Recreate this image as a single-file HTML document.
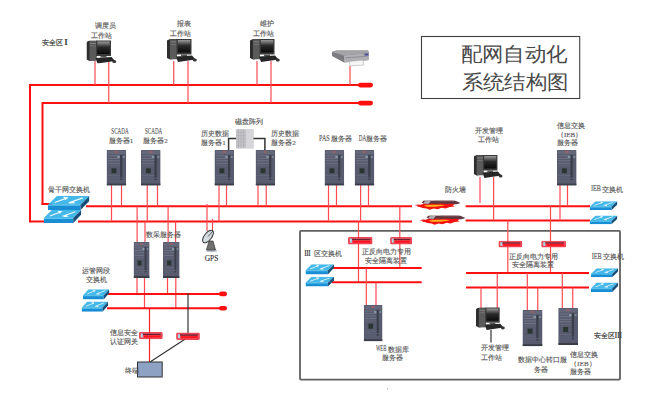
<!DOCTYPE html>
<html><head><meta charset="utf-8"><style>
html,body{margin:0;padding:0;background:#fff;width:650px;height:400px;overflow:hidden}
svg{display:block}
text{font-family:"Liberation Serif",serif}
</style></head><body>
<svg width="650" height="400" viewBox="0 0 650 400">

<defs>
 <symbol id="srv" viewBox="0 0 20 36" preserveAspectRatio="none">
  <rect x="0" y="0" width="20" height="36" rx="0.8" fill="#575b6d"/>
  <rect x="0.8" y="0.8" width="18.4" height="3.5" fill="#64687a"/>
  <rect x="8" y="1.3" width="4" height="1.3" fill="#a86060"/>
  <rect x="1.5" y="5.5" width="12" height="0.8" fill="#767a8c"/>
  <rect x="1.5" y="8" width="12" height="0.8" fill="#767a8c"/>
  <rect x="1.5" y="10.5" width="12" height="0.8" fill="#767a8c"/>
  <rect x="1.5" y="13" width="12" height="0.8" fill="#767a8c"/>
  <rect x="1.5" y="15.5" width="12" height="0.8" fill="#666a7c"/>
  <rect x="13.8" y="5" width="2.2" height="26" fill="#3a3d4a"/>
  <rect x="11" y="6" width="2.5" height="2" fill="#8a9aa4"/>
  <rect x="16.5" y="6" width="2" height="2" fill="#7a8a94"/>
  <rect x="5" y="18.5" width="5" height="5" fill="#2a3430"/>
  <rect x="1.5" y="25.5" width="12" height="0.8" fill="#666a7c"/>
  <rect x="1.5" y="28" width="16" height="0.8" fill="#60647a"/>
  <rect x="1.5" y="30.5" width="16" height="0.8" fill="#5c6074"/>
  <rect x="0" y="34" width="20" height="2" fill="#3a3d48"/>
 </symbol>
 <symbol id="pc" viewBox="0 0 30 23" preserveAspectRatio="none">
  <linearGradient id="scr" x1="0" y1="0" x2="0" y2="1"><stop offset="0" stop-color="#9a9a9a"/><stop offset="0.45" stop-color="#2a2a2a"/><stop offset="1" stop-color="#0a0a0a"/></linearGradient>
  <polygon points="0,1.5 3,0 10,0 10,19.5 3,20.5 0,19" fill="#2e2e2e"/>
  <rect x="3" y="0.3" width="7" height="20" fill="#5a5a5a"/>
  <rect x="3.5" y="2.5" width="6" height="0.8" fill="#888"/>
  <rect x="3.5" y="5" width="6" height="0.8" fill="#777"/>
  <rect x="9.5" y="-0.5" width="15" height="16" fill="#3a3a3a"/>
  <rect x="10.8" y="1" width="12.5" height="12.5" fill="url(#scr)"/>
  <rect x="14" y="15.5" width="6" height="1.5" fill="#555"/>
  <polygon points="9,17.5 25,16.5 28.5,20.5 11,23" fill="#262626"/>
  <ellipse cx="27.8" cy="21" rx="2" ry="1.5" fill="#333"/>
 </symbol>
 <symbol id="sw" viewBox="0 0 28 9" preserveAspectRatio="none">
  <polygon points="0,5.6 6,0 28,0 22,5.6" fill="#44b8e8"/>
  <polygon points="0,5.6 22,5.6 22,9 0,9" fill="#1a8ed4"/>
  <polygon points="0,5.6 22,5.6 22,6.3 0,6.3" fill="#5cc8f0"/>
  <polygon points="22,5.6 28,0 28,3.2 22,9" fill="#184f78"/>
  <path d="M4.5,4.2 L13,1.2 M10.5,0.9 L13,1.2 L11.5,2.4 M14,4.4 L23.5,1.2 M15,4.4 L17.5,4.3 L16.2,3.3" stroke="#f0faff" stroke-width="0.75" fill="none"/>
 </symbol>
 <symbol id="iso" viewBox="0 0 25 7.5" preserveAspectRatio="none">
  <rect x="0.4" y="0.4" width="24.2" height="6.7" rx="1" fill="#f25868" stroke="#e81c2c" stroke-width="0.8"/>
  <rect x="2.5" y="1.8" width="20.5" height="1.4" fill="#6a2030"/>
  <rect x="2" y="1.6" width="2" height="4" fill="#a8dce8"/>
  <rect x="5" y="3.6" width="18" height="2.2" fill="#ff1420"/>
 </symbol>
 <symbol id="fw" viewBox="0 0 46 11" preserveAspectRatio="none">
  <polygon points="7,2.5 9,0.3 40,0.3 46,3 42,4.2 10,4.2" fill="#5e3840"/>
  <polygon points="10,1 16,0.8 14,3.6 8.5,3.6" fill="#b4b4bc"/>
  <polygon points="20,0.6 38,0.6 40,1.6 22,1.6" fill="#7a4a50"/>
  <path d="M0,5.2 L3,4.4 L6,4.8 L9,3.6 L13,4.2 L17,3.4 L22,4 L27,3.5 L32,3.9 L37,3.6 L40,4.5 L38,5.6 L40,6.6 L35,7.2 L31,8.6 L27,8 L23,9.6 L19,8.8 L15,10 L12,8.6 L8,8.2 L5,7.2 L2,6.8 L4,6 Z" fill="#f41010"/>
  <path d="M9,5.6 C13,4.6 22,4.4 30,5 C28,6.5 20,7 12,6.8 Z" fill="#ffb818"/>
 </symbol>
</defs>

<rect x="421.5" y="36.5" width="158.2" height="62" fill="none" stroke="#404040" stroke-width="1.1"/>
<text transform="translate(460.5 60.8) scale(1 0.93)" font-size="21" fill="#484848" letter-spacing="0.7" style="font-family:Liberation Sans">配网自动化</text>
<text transform="translate(461.5 89) scale(1 0.93)" font-size="21" fill="#484848" letter-spacing="0.7" style="font-family:Liberation Sans">系统结构图</text>
<rect x="300" y="230.9" width="320" height="148.7" rx="0.8" fill="none" stroke="#606060" stroke-width="1.8"/>
<line x1="30" y1="85" x2="362" y2="85" stroke="#ff1010" stroke-width="2.0"/>
<line x1="42.5" y1="103" x2="362" y2="103" stroke="#ff1010" stroke-width="2.0"/>
<rect x="358" y="82.8" width="15" height="4.6" rx="2.3" fill="#ff1010"/>
<rect x="358" y="100.8" width="15" height="4.6" rx="2.3" fill="#ff1010"/>
<line x1="30" y1="84" x2="30" y2="221.5" stroke="#ff1010" stroke-width="2"/>
<line x1="29" y1="221.5" x2="46" y2="221.5" stroke="#ff1010" stroke-width="2.0"/>
<line x1="42.5" y1="102" x2="42.5" y2="204.5" stroke="#ff1010" stroke-width="2"/>
<line x1="41.5" y1="204" x2="52" y2="204" stroke="#ff1010" stroke-width="2.0"/>
<line x1="95" y1="61" x2="95" y2="85" stroke="#ff4a50" stroke-width="1.2"/>
<line x1="108.75" y1="61" x2="108.75" y2="103" stroke="#ff4a50" stroke-width="1.2"/>
<use href="#pc" x="86.5" y="40.5" width="30" height="23"/>
<line x1="173.75" y1="61" x2="173.75" y2="85" stroke="#ff4a50" stroke-width="1.2"/>
<line x1="188" y1="61" x2="188" y2="103" stroke="#ff4a50" stroke-width="1.2"/>
<use href="#pc" x="167" y="39" width="30" height="23"/>
<line x1="257" y1="61" x2="257" y2="85" stroke="#ff4a50" stroke-width="1.2"/>
<line x1="271" y1="61" x2="271" y2="103" stroke="#ff4a50" stroke-width="1.2"/>
<use href="#pc" x="250" y="39" width="30" height="23"/>
<text x="94.5" y="27.6" font-size="7" fill="#5a5a5a" stroke="#5a5a5a" stroke-width="0.15" text-anchor="start" >调度员</text>
<text x="91" y="37.6" font-size="7" fill="#5a5a5a" stroke="#5a5a5a" stroke-width="0.15" text-anchor="start" >工作站</text>
<text x="177" y="25.8" font-size="7" fill="#5a5a5a" stroke="#5a5a5a" stroke-width="0.15" text-anchor="start" >报表</text>
<text x="170" y="35.6" font-size="7" fill="#5a5a5a" stroke="#5a5a5a" stroke-width="0.15" text-anchor="start" >工作站</text>
<text x="259.5" y="25.8" font-size="7" fill="#5a5a5a" stroke="#5a5a5a" stroke-width="0.15" text-anchor="start" >维护</text>
<text x="253" y="35.6" font-size="7" fill="#5a5a5a" stroke="#5a5a5a" stroke-width="0.15" text-anchor="start" >工作站</text>
<text x="42" y="44.9" font-size="7" fill="#333" stroke="#333" stroke-width="0.15" text-anchor="start" stroke-width="0.35">安全区</text>
<text x="64.3" y="45.0" font-size="9" fill="#444" stroke="#444" stroke-width="0.15" text-anchor="start" font-weight="bold">I</text>
<line x1="350" y1="66" x2="350" y2="85" stroke="#ff4a50" stroke-width="1.2"/>
<polygon points="332,52 336,50.5 368,50.5 369,53 369,60 344,62.5 332,56" fill="#7c7c80"/>
<polygon points="332,52 336,50.5 368,50.5 369,53 344,55.5" fill="#a4a4a8"/>
<polygon points="344,55.5 369,53 369,60 344,62.5" fill="#b0b0b4"/>
<line x1="345" y1="58" x2="368" y2="56" stroke="#7a7a7e" stroke-width="0.6"/>
<rect x="364.5" y="53.5" width="4" height="2" fill="#4a4a9a"/>
<polygon points="349,61.5 363,60 364,65 350,65.8" fill="#f6f6f6" stroke="#a0a0a0" stroke-width="0.5"/>
<line x1="86" y1="206.3" x2="412" y2="206.3" stroke="#ff1010" stroke-width="2.0"/>
<line x1="78" y1="221.5" x2="412" y2="221.5" stroke="#ff1010" stroke-width="2.0"/>
<line x1="465.6" y1="206.2" x2="590" y2="206.2" stroke="#ff1010" stroke-width="2.0"/>
<line x1="465.6" y1="220.4" x2="590" y2="220.4" stroke="#ff1010" stroke-width="2.0"/>
<use href="#sw" x="48" y="196" width="41.4" height="14"/>
<use href="#sw" x="43.8" y="210" width="37.5" height="13"/>
<text x="48" y="191.8" font-size="7" fill="#5a5a5a" stroke="#5a5a5a" stroke-width="0.15" text-anchor="start" >骨干网交换机</text>
<line x1="111.5" y1="185" x2="111.5" y2="221.5" stroke="#ff4a50" stroke-width="1.2"/>
<line x1="121.5" y1="185" x2="121.5" y2="206.3" stroke="#ff4a50" stroke-width="1.2"/>
<line x1="147.25" y1="185" x2="147.25" y2="221.5" stroke="#ff4a50" stroke-width="1.2"/>
<line x1="157.5" y1="185" x2="157.5" y2="206.3" stroke="#ff4a50" stroke-width="1.2"/>
<line x1="219" y1="185" x2="219" y2="221.5" stroke="#ff4a50" stroke-width="1.2"/>
<line x1="226.5" y1="185" x2="226.5" y2="206.3" stroke="#ff4a50" stroke-width="1.2"/>
<line x1="258" y1="185" x2="258" y2="206.3" stroke="#ff4a50" stroke-width="1.2"/>
<line x1="266.25" y1="185" x2="266.25" y2="206.3" stroke="#ff4a50" stroke-width="1.2"/>
<line x1="328.5" y1="185" x2="328.5" y2="221.5" stroke="#ff4a50" stroke-width="1.2"/>
<line x1="336.5" y1="185" x2="336.5" y2="206.3" stroke="#ff4a50" stroke-width="1.2"/>
<line x1="360.6" y1="185" x2="360.6" y2="221.5" stroke="#ff4a50" stroke-width="1.2"/>
<line x1="368.5" y1="185" x2="368.5" y2="206.3" stroke="#ff4a50" stroke-width="1.2"/>
<line x1="560" y1="185" x2="560" y2="220.4" stroke="#ff4a50" stroke-width="1.2"/>
<line x1="567.5" y1="185" x2="567.5" y2="206.2" stroke="#ff4a50" stroke-width="1.2"/>
<use href="#srv" x="106.6" y="150" width="19.6" height="35.6"/>
<use href="#srv" x="141" y="150" width="19.6" height="35.6"/>
<use href="#srv" x="214.5" y="150" width="19.6" height="35.6"/>
<use href="#srv" x="255.6" y="150" width="19.6" height="35.6"/>
<use href="#srv" x="324.6" y="150" width="19.6" height="35.6"/>
<use href="#srv" x="354.7" y="150" width="19.6" height="35.6"/>
<use href="#srv" x="557" y="150" width="19.6" height="35.6"/>
<text x="111.3" y="134.1" font-size="7.5" fill="#5a5a5a" stroke="#5a5a5a" stroke-width="0.15" text-anchor="start" textLength="17.3" lengthAdjust="spacingAndGlyphs">SCADA</text>
<text x="108.8" y="142.7" font-size="7" fill="#5a5a5a" stroke="#5a5a5a" stroke-width="0.15" text-anchor="start" >服务器1</text>
<text x="145" y="134.1" font-size="7.5" fill="#5a5a5a" stroke="#5a5a5a" stroke-width="0.15" text-anchor="start" textLength="17.3" lengthAdjust="spacingAndGlyphs">SCADA</text>
<text x="143.2" y="142.7" font-size="7" fill="#5a5a5a" stroke="#5a5a5a" stroke-width="0.15" text-anchor="start" >服务器2</text>
<text x="234.5" y="123.9" font-size="7" fill="#5a5a5a" stroke="#5a5a5a" stroke-width="0.15" text-anchor="start" >磁盘阵列</text>
<text x="201.3" y="135.8" font-size="7" fill="#5a5a5a" stroke="#5a5a5a" stroke-width="0.15" text-anchor="start" >历史数据</text>
<text x="201.3" y="144.6" font-size="7" fill="#5a5a5a" stroke="#5a5a5a" stroke-width="0.15" text-anchor="start" >服务器1</text>
<text x="271.3" y="135.8" font-size="7" fill="#5a5a5a" stroke="#5a5a5a" stroke-width="0.15" text-anchor="start" >历史数据</text>
<text x="271.3" y="144.6" font-size="7" fill="#5a5a5a" stroke="#5a5a5a" stroke-width="0.15" text-anchor="start" >服务器2</text>
<text x="319" y="141.1" font-size="7.5" fill="#5a5a5a" stroke="#5a5a5a" stroke-width="0.15" textLength="10.8" lengthAdjust="spacingAndGlyphs">PAS</text>
<text x="330.6" y="140.5" font-size="7" fill="#5a5a5a" stroke="#5a5a5a" stroke-width="0.15" text-anchor="start" >服务器</text>
<text x="358.8" y="141.1" font-size="7.5" fill="#5a5a5a" stroke="#5a5a5a" stroke-width="0.15" textLength="7.5" lengthAdjust="spacingAndGlyphs">DA</text>
<text x="366.3" y="140.5" font-size="7" fill="#5a5a5a" stroke="#5a5a5a" stroke-width="0.15" text-anchor="start" >服务器</text>
<text x="557" y="128.3" font-size="7" fill="#5a5a5a" stroke="#5a5a5a" stroke-width="0.15" text-anchor="start" >信息交换</text>
<text x="557" y="136.6" font-size="7" fill="#5a5a5a" stroke="#5a5a5a" stroke-width="0.15" text-anchor="start" >（IEB）</text>
<text x="556.7" y="145.3" font-size="7" fill="#5a5a5a" stroke="#5a5a5a" stroke-width="0.15" text-anchor="start" >服务器</text>
<rect x="236" y="129.2" width="17.5" height="19.2" fill="#c4c4c8"/>
<rect x="246" y="129.2" width="7.5" height="19.2" fill="#d6d6da"/>
<line x1="236" y1="132.39999999999998" x2="246" y2="132.39999999999998" stroke="#a8a8ae" stroke-width="0.5"/>
<line x1="236" y1="135.6" x2="246" y2="135.6" stroke="#a8a8ae" stroke-width="0.5"/>
<line x1="236" y1="138.79999999999998" x2="246" y2="138.79999999999998" stroke="#a8a8ae" stroke-width="0.5"/>
<line x1="236" y1="142.0" x2="246" y2="142.0" stroke="#a8a8ae" stroke-width="0.5"/>
<line x1="236" y1="145.2" x2="246" y2="145.2" stroke="#a8a8ae" stroke-width="0.5"/>
<line x1="238.5" y1="129.2" x2="238.5" y2="148.4" stroke="#a8a8ae" stroke-width="0.5"/>
<line x1="241.0" y1="129.2" x2="241.0" y2="148.4" stroke="#a8a8ae" stroke-width="0.5"/>
<line x1="243.5" y1="129.2" x2="243.5" y2="148.4" stroke="#a8a8ae" stroke-width="0.5"/>
<path d="M228.6,150 V138.4 H236 M253.5,138.4 H264.9 V150" fill="none" stroke="#333" stroke-width="1.5"/>
<line x1="480" y1="177" x2="480" y2="203" stroke="#ff4a50" stroke-width="1.2"/>
<line x1="493.6" y1="177" x2="493.6" y2="220.4" stroke="#ff4a50" stroke-width="1.2"/>
<use href="#pc" x="473.75" y="155" width="29" height="23"/>
<text x="475" y="133.3" font-size="7" fill="#5a5a5a" stroke="#5a5a5a" stroke-width="0.15" text-anchor="start" >开发管理</text>
<text x="477.5" y="142.3" font-size="7" fill="#5a5a5a" stroke="#5a5a5a" stroke-width="0.15" text-anchor="start" >工作站</text>
<use href="#fw" x="414.7" y="200.2" width="46" height="10.5"/>
<use href="#fw" x="419.6" y="215.2" width="46" height="10.5"/>
<text x="445" y="192.0" font-size="7" fill="#5a5a5a" stroke="#5a5a5a" stroke-width="0.15" text-anchor="start" >防火墙</text>
<use href="#sw" x="589.8" y="201.3" width="27.6" height="8.8"/>
<use href="#sw" x="589.8" y="215.5" width="27.6" height="8.8"/>
<text x="590.9" y="191.3" font-size="7.5" fill="#5a5a5a" stroke="#5a5a5a" stroke-width="0.15" textLength="10" lengthAdjust="spacingAndGlyphs">IEB</text>
<text x="602.3" y="191.5" font-size="7" fill="#5a5a5a" stroke="#5a5a5a" stroke-width="0.15" text-anchor="start" >交换机</text>
<line x1="137.1" y1="206.3" x2="137.1" y2="242" stroke="#ff4a50" stroke-width="1.2"/>
<line x1="145" y1="221.5" x2="145" y2="242" stroke="#ff4a50" stroke-width="1.2"/>
<line x1="168.1" y1="206.3" x2="168.1" y2="242" stroke="#ff4a50" stroke-width="1.2"/>
<line x1="175.6" y1="221.5" x2="175.6" y2="242" stroke="#ff4a50" stroke-width="1.2"/>
<line x1="137" y1="278" x2="137" y2="293.5" stroke="#ff4a50" stroke-width="1.2"/>
<line x1="144.5" y1="278" x2="144.5" y2="308" stroke="#ff4a50" stroke-width="1.2"/>
<line x1="167.5" y1="278" x2="167.5" y2="293.5" stroke="#ff4a50" stroke-width="1.2"/>
<line x1="175.8" y1="278" x2="175.8" y2="308" stroke="#ff4a50" stroke-width="1.2"/>
<use href="#srv" x="133.6" y="242" width="16" height="36"/>
<use href="#srv" x="163" y="242" width="16.6" height="36"/>
<text x="146" y="236.8" font-size="7" fill="#5a5a5a" stroke="#5a5a5a" stroke-width="0.15" text-anchor="start" >数采服务器</text>
<line x1="207" y1="204" x2="207" y2="231" stroke="#ff4a50" stroke-width="1.2"/>
<line x1="212.5" y1="219" x2="212.5" y2="233" stroke="#ff4a50" stroke-width="1.2"/>
<ellipse cx="211.5" cy="251" rx="6" ry="1.2" fill="#b8bccc"/>
<polygon points="209,241 213,241 215.5,250 206.5,250" fill="#707070" stroke="#303030" stroke-width="0.7"/>
<ellipse cx="208" cy="236.5" rx="7.5" ry="3.6" transform="rotate(-52 208 236.5)" fill="#d4dde2" stroke="#303030" stroke-width="1"/>
<line x1="208" y1="236.5" x2="213" y2="231" stroke="#333" stroke-width="0.8"/>
<text x="204.8" y="260.5" font-size="7.8" fill="#333" stroke="#333" stroke-width="0.15" text-anchor="start" textLength="13.5" lengthAdjust="spacingAndGlyphs">GPS</text>
<line x1="108" y1="293.9" x2="222" y2="293.9" stroke="#ff1010" stroke-width="2.0"/>
<line x1="107" y1="308.2" x2="222" y2="308.2" stroke="#ff1010" stroke-width="2.0"/>
<rect x="219" y="291.6" width="8" height="4.6" rx="2.3" fill="#ff1010"/>
<rect x="219" y="305.9" width="8" height="4.6" rx="2.3" fill="#ff1010"/>
<use href="#sw" x="82.9" y="289.2" width="26.5" height="10.2"/>
<use href="#sw" x="81.7" y="301.5" width="26.5" height="10.2"/>
<text x="82" y="273.3" font-size="7" fill="#5a5a5a" stroke="#5a5a5a" stroke-width="0.15" text-anchor="start" >运管网段</text>
<text x="86.3" y="281.6" font-size="7" fill="#5a5a5a" stroke="#5a5a5a" stroke-width="0.15" text-anchor="start" >交换机</text>
<line x1="149.5" y1="308" x2="149.5" y2="362" stroke="#ff2020" stroke-width="1.2"/>
<line x1="188" y1="293.5" x2="188" y2="333" stroke="#333" stroke-width="1.2"/>
<line x1="186" y1="338.5" x2="150" y2="362" stroke="#333" stroke-width="1.2"/>
<use href="#iso" x="139" y="332" width="23.7" height="7.2"/>
<use href="#iso" x="176.2" y="332.6" width="23.6" height="7.4"/>
<text x="109.6" y="334.6" font-size="7" fill="#5a5a5a" stroke="#5a5a5a" stroke-width="0.15" text-anchor="start" >信息安全</text>
<text x="109.6" y="344.1" font-size="7" fill="#5a5a5a" stroke="#5a5a5a" stroke-width="0.15" text-anchor="start" >认证网关</text>
<rect x="137.5" y="362" width="24.7" height="15" fill="#8ea2c4" stroke="#333" stroke-width="1"/>
<text x="124.5" y="372.9" font-size="7" fill="#5a5a5a" stroke="#5a5a5a" stroke-width="0.15" text-anchor="start" >终端</text>
<line x1="358.5" y1="221.5" x2="358.5" y2="282.2" stroke="#ff4a50" stroke-width="1.2"/>
<line x1="399.8" y1="206.3" x2="399.8" y2="267.9" stroke="#ff4a50" stroke-width="1.2"/>
<use href="#iso" x="348" y="237" width="24.5" height="7.5"/>
<use href="#iso" x="390.2" y="237" width="21.8" height="7.5"/>
<text x="362" y="254.0" font-size="7" fill="#5a5a5a" stroke="#5a5a5a" stroke-width="0.15" text-anchor="start" >正反向电力专用</text>
<text x="365" y="262.5" font-size="7" fill="#5a5a5a" stroke="#5a5a5a" stroke-width="0.15" text-anchor="start" >安全隔离装置</text>
<text x="304.4" y="255.8" font-size="7.5" fill="#444" stroke="#444" stroke-width="0.15" text-anchor="start" textLength="6" lengthAdjust="spacingAndGlyphs" font-weight="bold">III</text>
<text x="313.5" y="255.6" font-size="7" fill="#5a5a5a" stroke="#5a5a5a" stroke-width="0.15" text-anchor="start" >区交换机</text>
<line x1="332" y1="267.9" x2="421.7" y2="267.9" stroke="#ff1010" stroke-width="2.0"/>
<line x1="332" y1="282.2" x2="421.7" y2="282.2" stroke="#ff1010" stroke-width="2.0"/>
<use href="#sw" x="305.5" y="264.2" width="28.5" height="10.2"/>
<use href="#sw" x="305.5" y="276.8" width="28.5" height="9.6"/>
<line x1="366.3" y1="267.9" x2="366.3" y2="305" stroke="#ff4a50" stroke-width="1.2"/>
<line x1="376" y1="282.2" x2="376" y2="305" stroke="#ff4a50" stroke-width="1.2"/>
<use href="#srv" x="363.75" y="305" width="18.75" height="36.3"/>
<text x="375.9" y="350.9" font-size="7.5" fill="#5a5a5a" stroke="#5a5a5a" stroke-width="0.15" textLength="10.4" lengthAdjust="spacingAndGlyphs">WEB</text>
<text x="387.7" y="351.6" font-size="7" fill="#5a5a5a" stroke="#5a5a5a" stroke-width="0.15" text-anchor="start" >数据库</text>
<text x="382" y="359.6" font-size="7" fill="#5a5a5a" stroke="#5a5a5a" stroke-width="0.15" text-anchor="start" >服务器</text>
<line x1="507.8" y1="220.4" x2="507.8" y2="273.1" stroke="#ff4a50" stroke-width="1.2"/>
<line x1="550.5" y1="206.2" x2="550.5" y2="273.1" stroke="#ff4a50" stroke-width="1.2"/>
<use href="#iso" x="498.5" y="240.8" width="23.8" height="6.6"/>
<use href="#iso" x="541.3" y="240.8" width="24.7" height="6.6"/>
<text x="508.8" y="258.5" font-size="7" fill="#5a5a5a" stroke="#5a5a5a" stroke-width="0.15" text-anchor="start" >正反向电力专用</text>
<text x="512" y="267.1" font-size="7" fill="#5a5a5a" stroke="#5a5a5a" stroke-width="0.15" text-anchor="start" >安全隔离装置</text>
<line x1="466" y1="273.1" x2="589" y2="273.1" stroke="#ff1010" stroke-width="2.0"/>
<line x1="466" y1="287.5" x2="589" y2="287.5" stroke="#ff1010" stroke-width="2.0"/>
<use href="#sw" x="591" y="268.3" width="27" height="9"/>
<use href="#sw" x="591" y="282.5" width="27" height="9.5"/>
<text x="591.7" y="258.5" font-size="7.5" fill="#5a5a5a" stroke="#5a5a5a" stroke-width="0.15" textLength="10" lengthAdjust="spacingAndGlyphs">IEB</text>
<text x="603" y="258.5" font-size="7" fill="#5a5a5a" stroke="#5a5a5a" stroke-width="0.15" text-anchor="start" >交换机</text>
<line x1="481" y1="287.5" x2="481" y2="308" stroke="#ff4a50" stroke-width="1.2"/>
<line x1="497.25" y1="273.1" x2="497.25" y2="308" stroke="#ff4a50" stroke-width="1.2"/>
<line x1="527.3" y1="273.1" x2="527.3" y2="310" stroke="#ff4a50" stroke-width="1.2"/>
<line x1="537.75" y1="287.5" x2="537.75" y2="310" stroke="#ff4a50" stroke-width="1.2"/>
<line x1="562.3" y1="273.1" x2="562.3" y2="308" stroke="#ff4a50" stroke-width="1.2"/>
<line x1="572.75" y1="287.5" x2="572.75" y2="308" stroke="#ff4a50" stroke-width="1.2"/>
<use href="#pc" x="476" y="307.5" width="29" height="22.5"/>
<line x1="491" y1="330" x2="491" y2="342.5" stroke="#333" stroke-width="1.2"/>
<text x="481" y="349.5" font-size="7" fill="#5a5a5a" stroke="#5a5a5a" stroke-width="0.15" text-anchor="start" >开发管理</text>
<text x="481" y="359.5" font-size="7" fill="#5a5a5a" stroke="#5a5a5a" stroke-width="0.15" text-anchor="start" >工作站</text>
<use href="#srv" x="522.5" y="310" width="20" height="36.2"/>
<use href="#srv" x="558.25" y="308" width="19.75" height="37"/>
<text x="518" y="362.1" font-size="7" fill="#5a5a5a" stroke="#5a5a5a" stroke-width="0.15" text-anchor="start" >数据中心转口服</text>
<text x="533.7" y="371.6" font-size="7" fill="#5a5a5a" stroke="#5a5a5a" stroke-width="0.15" text-anchor="start" >务器</text>
<text x="570.3" y="356.5" font-size="7" fill="#5a5a5a" stroke="#5a5a5a" stroke-width="0.15" text-anchor="start" >信息交换</text>
<text x="570.3" y="365.8" font-size="7" fill="#5a5a5a" stroke="#5a5a5a" stroke-width="0.15" text-anchor="start" >（IEB）</text>
<text x="570" y="373.6" font-size="7" fill="#5a5a5a" stroke="#5a5a5a" stroke-width="0.15" text-anchor="start" >服务器</text>
<text x="594" y="337.8" font-size="7" fill="#333" stroke="#333" stroke-width="0.15" text-anchor="start" >安全区</text>
<text x="614.8" y="337.9" font-size="7.5" fill="#444" stroke="#444" stroke-width="0.15" text-anchor="start" textLength="7" lengthAdjust="spacingAndGlyphs" font-weight="bold">III</text>
<circle cx="387.5" cy="388.7" r="0.6" fill="#999"/>
</svg></body></html>
